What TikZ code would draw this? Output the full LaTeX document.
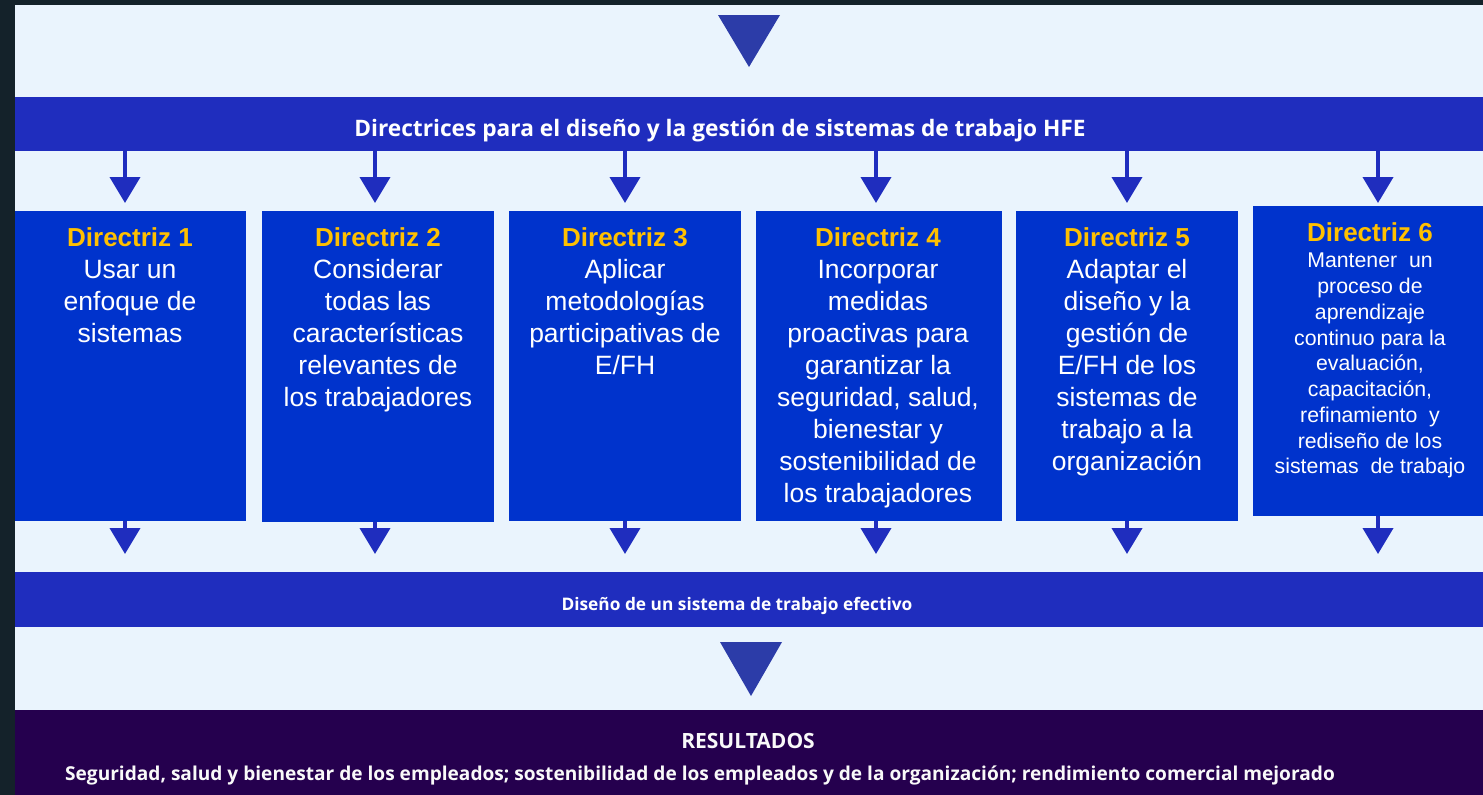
\documentclass[tikz,border=0pt]{standalone}
\usepackage{fontspec}
\setmainfont{Liberation Sans}
\newfontfamily\bannerfont{Open Sans}
\usetikzlibrary{arrows.meta,calc}
\definecolor{frame}{RGB}{20,34,42}
\definecolor{paper}{RGB}{234,244,253}
\definecolor{banner}{RGB}{31,45,190}
\definecolor{boxblue}{RGB}{0,51,204}
\definecolor{gold}{RGB}{255,192,0}
\definecolor{deep}{RGB}{37,0,78}
\definecolor{tri}{RGB}{44,60,168}
\tikzset{
  band/.style={fill=banner, inner sep=0pt, text=white, font=\bannerfont\bfseries},
  gbox/.style={fill=boxblue, inner sep=0pt, anchor=north west},
  gtext/.style={anchor=base, inner sep=0pt, text=white},
  down/.style={draw=banner, line width=4pt, -{Triangle[width=30pt,length=26pt]}},
  bigtri/.style={fill=tri},
}
\newcommand{\gtitle}[1]{{\fontsize{26}{32}\selectfont\bfseries\color{gold}#1}}
\begin{document}
\begin{tikzpicture}[x=1pt,y=-1pt]
\useasboundingbox (0,0) rectangle (1483,795);
\fill[frame] (0,0) rectangle (1483,795);
\fill[paper] (15,5) rectangle (1483,795);
% top triangle
\fill[bigtri] (718,15) -- (780,15) -- (749,67) -- cycle;
% banners
\node[band, minimum width=1468pt, minimum height=54pt, anchor=north west] (top) at (15,97) {};
\node[anchor=base, text=white, font=\bannerfont\bfseries\fontsize{22.7}{26}\selectfont, inner sep=0pt] (toptext) at (720,136) {Directrices para el diseño y la gestión de sistemas de trabajo HFE};
\node[band, minimum width=1468pt, minimum height=55pt, anchor=north west] (mid) at (15,572) {};
\node[anchor=base, text=white, font=\bannerfont\bfseries\fontsize{17.3}{20}\selectfont, inner sep=0pt] (midtext) at (737,610) {Diseño de un sistema de trabajo efectivo};
\fill[bigtri] (720,642) -- (782,642) -- (751,696) -- cycle;
\node[fill=deep, minimum width=1468pt, minimum height=85pt, anchor=north west, inner sep=0pt] (res) at (15,710) {};
\node[anchor=base, text=white!95!gray, font=\bannerfont\bfseries\fontsize{21}{24}\selectfont, inner sep=0pt] (restitle) at (748,748) {RESULTADOS};
\node[anchor=base, text=white!95!gray, font=\bannerfont\bfseries\fontsize{19.1}{22}\selectfont, inner sep=0pt] (restext) at (700,780) {Seguridad, salud y bienestar de los empleados; sostenibilidad de los empleados y de la organización; rendimiento comercial mejorado};
% boxes
\node[gbox, minimum width=231pt, minimum height=310pt] (b1) at (15,211) {};
\node[gbox, minimum width=232pt, minimum height=311pt] (b2) at (262,211) {};
\node[gbox, minimum width=232pt, minimum height=310pt] (b3) at (509,211) {};
\node[gbox, minimum width=246pt, minimum height=310pt] (b4) at (756,211) {};
\node[gbox, minimum width=222pt, minimum height=310pt] (b5) at (1016,211) {};
\node[gbox, minimum width=230pt, minimum height=310pt] (b6) at (1253,206) {};
% box texts
\node[gtext, font=\fontsize{26.5}{32}\selectfont] (t1) at (130,246) {\begin{tabular}[t]{@{}c@{}}\gtitle{Directriz 1}\\Usar un\\enfoque de\\sistemas\end{tabular}};
\node[gtext, font=\fontsize{26.5}{32}\selectfont] (t2) at (378,246) {\begin{tabular}[t]{@{}c@{}}\gtitle{Directriz 2}\\Considerar\\todas las\\características\\relevantes de\\los trabajadores\end{tabular}};
\node[gtext, font=\fontsize{26.5}{32}\selectfont] (t3) at (625,246) {\begin{tabular}[t]{@{}c@{}}\gtitle{Directriz 3}\\Aplicar\\metodologías\\participativas de\\E/FH\end{tabular}};
\node[gtext, font=\fontsize{26.5}{32}\selectfont] (t4) at (878,246) {\begin{tabular}[t]{@{}c@{}}\gtitle{Directriz 4}\\Incorporar\\medidas\\proactivas para\\garantizar la\\seguridad, salud,\\bienestar y\\sostenibilidad de\\los trabajadores\end{tabular}};
\node[gtext, font=\fontsize{26.5}{32}\selectfont] (t5) at (1127,246) {\begin{tabular}[t]{@{}c@{}}\gtitle{Directriz 5}\\Adaptar el\\diseño y la\\gestión de\\E/FH de los\\sistemas de\\trabajo a la\\organización\end{tabular}};
\node[gtext, font=\fontsize{21.3}{25.75}\selectfont] (t6) at (1370,241) {\begin{tabular}[t]{@{}c@{}}\gtitle{Directriz 6}\\[1pt]Mantener\ \ un\\proceso de\\aprendizaje\\continuo para la\\evaluación,\\capacitación,\\refinamiento\ \ y\\rediseño de los\\sistemas\ \ de trabajo\end{tabular}};
% arrow columns
\coordinate (c1) at (125,0);
\coordinate (c2) at (375,0);
\coordinate (c3) at (625,0);
\coordinate (c4) at (876,0);
\coordinate (c5) at (1127,0);
\coordinate (c6) at (1378,0);
\foreach \i in {1,...,5}{
  \draw[down, shorten >=8pt] (top.south -| c\i) -- (b\i.north -| c\i);
  \draw[down, shorten >=18pt] (b\i.south -| c\i) -- (mid.north -| c\i);
}
\draw[down, shorten >=3pt] (top.south -| c6) -- (b6.north -| c6);
\draw[down, shorten >=18pt] (b6.south -| c6) -- (mid.north -| c6);
\end{tikzpicture}
\end{document}
